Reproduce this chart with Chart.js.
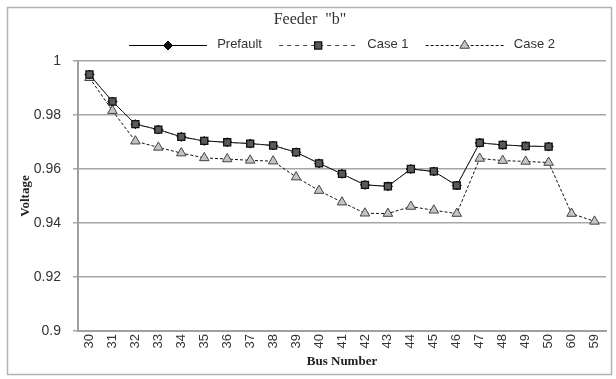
<!DOCTYPE html>
<html>
<head>
<meta charset="utf-8">
<script src="https://cdn.jsdelivr.net/npm/chart.js@4.4.1/dist/chart.umd.min.js"></script>
<style>
  html, body { margin: 0; padding: 0; background: #fff; }
  #wrap { width: 616px; height: 379px; }
</style>
</head>
<body>
<div id="wrap"><canvas id="chart" width="616" height="379"></canvas></div>
<script>
// ---- data ----
const busNumbers = ["30","31","32","33","34","35","36","37","38","39","40",
                    "41","42","43","44","45","46","47","48","49","50","60","59"];

const prefault = [0.995, 0.985, 0.9766, 0.9746, 0.9719, 0.9704, 0.9699, 0.9694, 0.9687, 0.9662, 0.9621,
                  0.9582, 0.9541, 0.9536, 0.960, 0.9591, 0.9539, 0.9697, 0.9689, 0.9685, 0.9683, null, null];

const case1 = [0.995, 0.985, 0.9766, 0.9746, 0.9719, 0.9704, 0.9699, 0.9694, 0.9687, 0.9662, 0.9621,
               0.9582, 0.9541, 0.9536, 0.960, 0.9591, 0.9539, 0.9697, 0.9689, 0.9685, 0.9683, null, null];

const case2 = [0.9938, 0.9816, 0.9703, 0.968, 0.9659, 0.9641, 0.9637, 0.9632, 0.9629, 0.957, 0.952,
               0.9477, 0.9436, 0.9435, 0.9461, 0.9447, 0.9435, 0.9639, 0.9631, 0.9628, 0.9624, 0.9435, 0.9406];

const yTicks = [0.9, 0.92, 0.94, 0.96, 0.98, 1];

const sansFont = "'Liberation Sans', Arial, sans-serif";
const serifFont = "'Liberation Serif', 'Times New Roman', serif";

// outer frame like the excel chart area border
const framePlugin = {
    id: "frame",
    beforeDraw(chart){
        const ctx = chart.ctx;
        ctx.save();
        ctx.strokeStyle = "#b3b3b3";
        ctx.lineWidth = 1.5;
        ctx.strokeRect(7.5, 7.5, 604, 367);
        ctx.restore();
    }
};

// legend sample: series line with its marker in the middle
const legendMarkers = {
    id: "legendMarkers",
    afterDraw(chart){
        const legend = chart.legend;
        if (!legend || !legend.legendHitBoxes) return;
        const ctx = chart.ctx;
        const boxW = legend.options.labels.boxWidth;
        const fs = legend.options.labels.font.size;
        legend.legendItems.forEach((item, i) => {
            const hb = legend.legendHitBoxes[i];
            const ds = chart.data.datasets[item.datasetIndex];
            const y = Math.round(hb.top + fs / 2) + 0.5;
            ctx.save();
            ctx.strokeStyle = ds.borderColor;
            ctx.lineWidth = ds.borderWidth;
            ctx.setLineDash(ds.borderDash || []);
            ctx.beginPath();
            ctx.moveTo(hb.left, y);
            ctx.lineTo(hb.left + boxW, y);
            ctx.stroke();

            ctx.fillStyle = ds.pointBackgroundColor;
            ctx.strokeStyle = ds.pointBorderColor;
            ctx.lineWidth = ds.pointBorderWidth;
            ctx.setLineDash([]);
            Chart.helpers.drawPoint(ctx, {
                pointStyle: ds.pointStyle,
                radius: ds.pointRadius,
                rotation: 0,
                borderWidth: ds.pointBorderWidth
            }, hb.left + boxW / 2, y);
            ctx.restore();
        });
    }
};

new Chart(document.getElementById("chart"), {
    type: "line",
    data: {
        labels: busNumbers,
        datasets: [
            {
                label: "Prefault",
                data: prefault,
                order: 2,
                borderColor: "#000",
                borderWidth: 1,
                pointStyle: "rectRot",
                pointRadius: 4.5,
                pointBackgroundColor: "#111",
                pointBorderColor: "#000",
                pointBorderWidth: 1
            },
            {
                label: "Case 1",
                data: case1,
                order: 1,
                borderColor: "#444",
                borderWidth: 1,
                borderDash: [4, 4],
                pointStyle: "rect",
                pointRadius: 5,
                pointBackgroundColor: "#5a5a5a",
                pointBorderColor: "#111",
                pointBorderWidth: 1.3
            },
            {
                label: "Case 2",
                data: case2,
                order: 3,
                borderColor: "#111",
                borderWidth: 1,
                borderDash: [3, 2],
                pointStyle: "triangle",
                pointRadius: 5.5,
                pointBackgroundColor: "#c4c4c4",
                pointBorderColor: "#444",
                pointBorderWidth: 1
            }
        ]
    },
    options: {
        responsive: false,
        animation: false,
        layout: {
            padding: { left: 14, right: 10, top: 8, bottom: 6 }
        },
        plugins: {
            title: {
                display: true,
                text: 'Feeder  "b"',
                color: "#333",
                font: { family: serifFont, size: 16, weight: "normal", lineHeight: 1 },
                padding: { top: 4, bottom: 0 }
            },
            legend: {
                display: true,
                position: "top",
                fullSize: false,
                labels: {
                    boxWidth: 78,
                    boxHeight: 0,
                    padding: 10,
                    color: "#333",
                    font: { family: sansFont, size: 13 },
                    sort: (a, b) => a.datasetIndex - b.datasetIndex,
                    generateLabels(chart){
                        const items = Chart.defaults.plugins.legend.labels.generateLabels(chart);
                        // excel leaves a wider gap round the text; the sample line is drawn by legendMarkers
                        items.forEach((it, i) => {
                            it.text = " " + it.text + (i < items.length - 1 ? "  " : "");
                            it.lineWidth = 0;
                            it.strokeStyle = "rgba(0,0,0,0)";
                            it.fillStyle = "rgba(0,0,0,0)";
                        });
                        return items;
                    }
                }
            },
            tooltip: { enabled: false }
        },
        scales: {
            x: {
                offset: true,
                afterFit(scale){ scale.height = 42; },
                grid: { display: false, drawTicks: false },
                border: { display: true, color: "#a0a0a0", width: 2 },
                ticks: {
                    minRotation: 90,
                    maxRotation: 90,
                    padding: 3,
                    autoSkip: false,
                    color: "#333",
                    font: { family: sansFont, size: 13 }
                },
                title: {
                    display: true,
                    text: "Bus Number",
                    color: "#222",
                    font: { family: serifFont, size: 13, weight: "bold" },
                    padding: { top: 0, bottom: 4 }
                }
            },
            y: {
                min: 0.9,
                max: 1,
                afterFit(scale){ scale.width = 64; },
                afterBuildTicks(scale){ scale.ticks = yTicks.map(v => ({ value: v })); },
                grid: {
                    color: "#a6a6a6",
                    lineWidth: 1.5,
                    tickLength: 5,
                    drawTicks: true
                },
                border: { display: true, color: "#a0a0a0", width: 2 },
                ticks: {
                    padding: 12,
                    color: "#333",
                    font: { family: sansFont, size: 14 },
                    callback: v => String(+v.toFixed(2))
                },
                title: {
                    display: true,
                    text: "Voltage",
                    color: "#222",
                    font: { family: serifFont, size: 13, weight: "bold" },
                    padding: { top: 4, bottom: 0 }
                }
            }
        }
    },
    plugins: [framePlugin, legendMarkers]
});
</script>
</body>
</html>
